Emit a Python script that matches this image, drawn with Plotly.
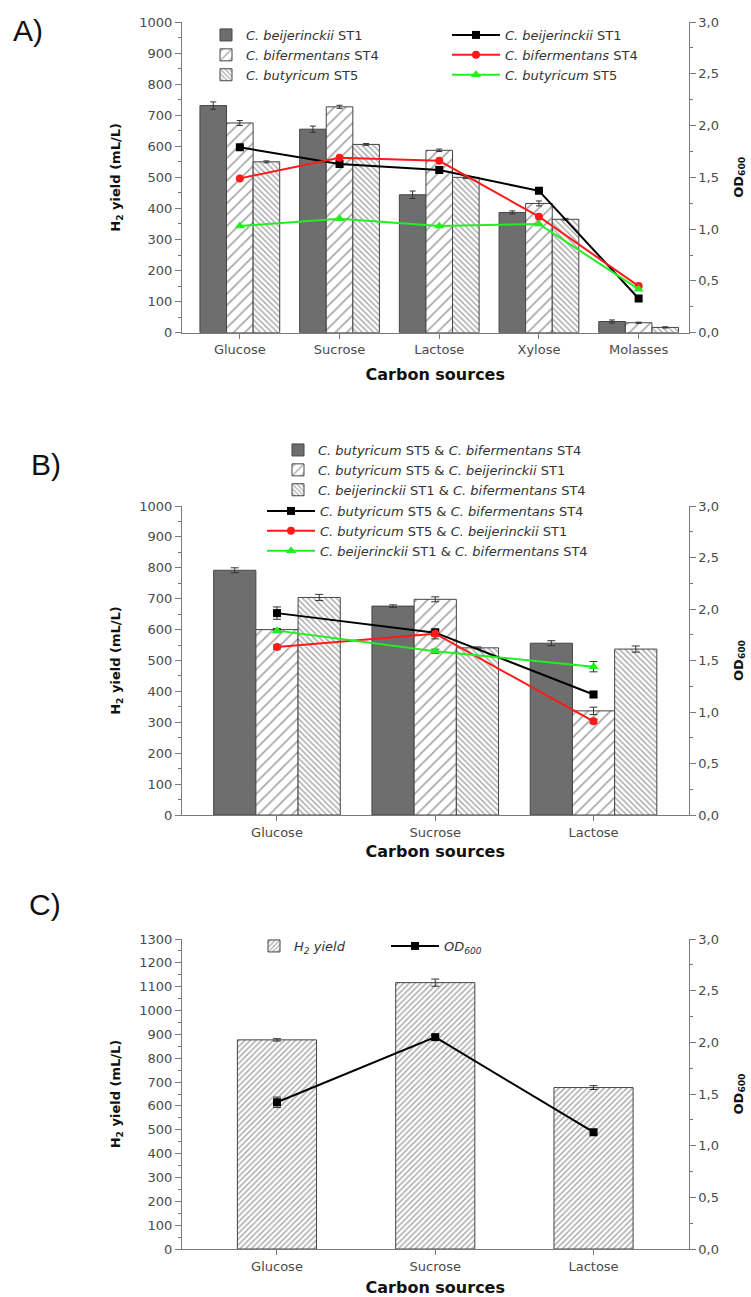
import plotly.graph_objects as go

# ---------------- data ----------------
cats_a = ["Glucose", "Sucrose", "Lactose", "Xylose", "Molasses"]
a_h2_beij = [731, 655, 444, 387, 36]
a_h2_beij_err = [12, 10, 12, 5, 5]
a_h2_bif = [675, 727, 587, 416, 32]
a_h2_bif_err = [8, 5, 4, 8, 2]
a_h2_but = [550, 606, 500, 365, 17]
a_h2_but_err = [3, 3, 4, 3, 2]
a_od_beij = [1.79, 1.63, 1.57, 1.37, 0.33]
a_od_bif = [1.49, 1.69, 1.66, 1.12, 0.45]
a_od_but = [1.03, 1.10, 1.03, 1.05, 0.42]

cats_b = ["Glucose", "Sucrose", "Lactose"]
b_h2_but_bif = [792, 676, 556]
b_h2_but_bif_err = [8, 4, 8]
b_h2_but_beij = [600, 698, 337]
b_h2_but_beij_err = [2, 8, 12]
b_h2_beij_bif = [704, 541, 537]
b_h2_beij_bif_err = [10, 3, 10]
b_od_but_bif = [1.96, 1.77, 1.17]
b_od_but_bif_err = [0.06, 0.02, 0.03]
b_od_but_beij = [1.63, 1.76, 0.91]
b_od_but_beij_err = [0.02, 0.05, 0.02]
b_od_beij_bif = [1.79, 1.59, 1.44]
b_od_beij_bif_err = [0.02, 0.02, 0.05]

cats_c = ["Glucose", "Sucrose", "Lactose"]
c_h2 = [877, 1117, 677]
c_h2_err = [5, 15, 8]
c_od = [1.42, 2.05, 1.13]
c_od_err = [0.05, 0.02, 0.02]

names_a = ["<i>C. beijerinckii</i> ST1", "<i>C. bifermentans</i> ST4", "<i>C. butyricum</i> ST5"]
names_b = ["<i>C. butyricum</i> ST5 & <i>C. bifermentans</i> ST4",
           "<i>C. butyricum</i> ST5 & <i>C. beijerinckii</i> ST1",
           "<i>C. beijerinckii</i> ST1 & <i>C. bifermentans</i> ST4"]
panel_labels = ["A)", "B)", "C)"]

# ---------------- styles ----------------
FONT = "DejaVu Sans"
AX = "#7a7a7a"
TXT = "#4a4a4a"
EDGE = "#454545"
W, H = 751, 1297

bar_styles = [
    dict(color="#6e6e6e", line=dict(color=EDGE, width=1)),
    dict(color="white", line=dict(color=EDGE, width=1),
         pattern=dict(shape="/", fgcolor="#4a4a4a", bgcolor="white", size=8, solidity=0.2)),
    dict(color="white", line=dict(color=EDGE, width=1),
         pattern=dict(shape="\\", fgcolor="#4a4a4a", bgcolor="white", size=4, solidity=0.35)),
]
line_colors = ["#000000", "#ff1a1a", "#22ee22"]
symbols = ["square", "circle", "triangle-up"]
msizes = [8, 8, 9]


def err(vals, w=3):
    return dict(type="data", array=vals, visible=True, color="#333333", thickness=1, width=w)


fig = go.Figure()

# ---- panel A ----
for nm, v, e, st in zip(names_a, [a_h2_beij, a_h2_bif, a_h2_but],
                        [a_h2_beij_err, a_h2_bif_err, a_h2_but_err], bar_styles):
    fig.add_trace(go.Bar(x=cats_a, y=v, error_y=err(e), name=nm, marker=st,
                         xaxis="x", yaxis="y", legend="legend", offsetgroup=nm))
for nm, v, c, s, ms in zip(names_a, [a_od_beij, a_od_bif, a_od_but], line_colors, symbols, msizes):
    fig.add_trace(go.Scatter(x=cats_a, y=v, name=nm, mode="lines+markers",
                             line=dict(color=c, width=2), marker=dict(color=c, symbol=s, size=ms),
                             xaxis="x", yaxis="y2", legend="legend2"))

# ---- panel B ----
for nm, v, e, st in zip(names_b, [b_h2_but_bif, b_h2_but_beij, b_h2_beij_bif],
                        [b_h2_but_bif_err, b_h2_but_beij_err, b_h2_beij_bif_err], bar_styles):
    fig.add_trace(go.Bar(x=cats_b, y=v, error_y=err(e, 4), name=nm, marker=st,
                         xaxis="x2", yaxis="y3", legend="legend3", offsetgroup="b" + nm))
for nm, v, e, c, s, ms in zip(names_b, [b_od_but_bif, b_od_but_beij, b_od_beij_bif],
                              [b_od_but_bif_err, b_od_but_beij_err, b_od_beij_bif_err],
                              line_colors, symbols, msizes):
    fig.add_trace(go.Scatter(x=cats_b, y=v, name=nm, mode="lines+markers", error_y=err(e, 4),
                             line=dict(color=c, width=2), marker=dict(color=c, symbol=s, size=ms),
                             xaxis="x2", yaxis="y4", legend="legend4"))

# ---- panel C ----
fig.add_trace(go.Bar(x=cats_c, y=c_h2, error_y=err(c_h2_err, 4), name="<i>H<sub>2</sub> yield</i>",
                     width=0.5, offset=-0.25,
                     marker=dict(color="white", line=dict(color=EDGE, width=1),
                                 pattern=dict(shape="/", fgcolor="#4a4a4a", bgcolor="white",
                                              size=4, solidity=0.35)),
                     xaxis="x3", yaxis="y5", legend="legend5"))
fig.add_trace(go.Scatter(x=cats_c, y=c_od, name="<i>OD<sub>600</sub></i>", mode="lines+markers",
                         error_y=err(c_od_err, 4),
                         line=dict(color="black", width=2), marker=dict(color="black", symbol="square", size=8),
                         xaxis="x3", yaxis="y6", legend="legend6"))

# ---------------- axes ----------------
xdom = [182 / W, 688.5 / W]


def ydom(top, bot):
    return [1 - bot / H, 1 - top / H]


tickfont = dict(family=FONT, size=13, color=TXT)
ltitle = dict(text="<b>H<sub>2</sub> yield (mL/L)</b>", font=dict(family=FONT, size=13, color="#111111"), standoff=15)
rtitle = dict(text="<b>OD<sub>600</sub></b>", font=dict(family=FONT, size=13, color="#111111"), standoff=15)


def xax(anchor, rng, standoff=12):
    return dict(domain=xdom, anchor=anchor, type="category", range=rng, showgrid=False, zeroline=False,
                showline=True, linecolor=AX, linewidth=1.3, ticks="outside", ticklen=5, tickcolor=AX,
                tickfont=tickfont, automargin=False,
                title=dict(text="<b>Carbon sources</b>", font=dict(family=FONT, size=16, color="#111111"),
                           standoff=standoff))


def yleft(anchor, dom, top):
    return dict(domain=dom, anchor=anchor, range=[0, top], dtick=100, tickformat="d", showgrid=False,
                zeroline=False, showline=True, linecolor=AX, linewidth=1.3, ticks="outside", ticklen=6,
                tickcolor=AX, tickfont=tickfont, title=ltitle, automargin=False,
                minor=dict(dtick=50, ticks="outside", ticklen=3, tickcolor=AX))


def yright(anchor, over):
    return dict(anchor=anchor, overlaying=over, side="right", range=[0, 3], dtick=0.5, tickformat=".1f",
                showgrid=False, zeroline=False, showline=True, linecolor=AX, linewidth=1.3, ticks="outside",
                ticklen=6, tickcolor=AX, tickfont=tickfont, title=rtitle, automargin=False,
                minor=dict(dtick=0.25, ticks="outside", ticklen=3, tickcolor=AX))


legfont = dict(family=FONT, size=13, color="#333333")


def leg(x, ytop, w=30, orient="v"):
    return dict(x=x / W, y=1 - ytop / H, xanchor="left", yanchor="top", bgcolor="rgba(0,0,0,0)",
                font=legfont, itemwidth=w, tracegroupgap=0, orientation=orient, itemclick=False)


fig.update_layout(
    width=W, height=H, margin=dict(l=0, r=0, t=0, b=0, autoexpand=False),
    paper_bgcolor="white", plot_bgcolor="white",
    separators=",.", barmode="group", bargap=0.2, bargroupgap=0,
    font=dict(family=FONT, color=TXT, size=13),
    xaxis=xax("y", [-0.58, 4.5]),
    yaxis=yleft("x", ydom(22, 332.7), 1000),
    yaxis2=yright("x", "y"),
    xaxis2=xax("y3", [-0.6, 2.6], 7),
    yaxis3=yleft("x2", ydom(506, 815), 1000),
    yaxis4=yright("x2", "y3"),
    xaxis3=xax("y5", [-0.6, 2.6]),
    yaxis5=yleft("x3", ydom(939, 1249), 1300),
    yaxis6=yright("x3", "y5"),
    legend=leg(206, 20),
    legend2=leg(447, 20, 48),
    legend3=leg(278, 435),
    legend4=leg(262, 496, 48),
    legend5=leg(254, 931),
    legend6=leg(386, 931, 48),
    showlegend=True,
    annotations=[
        dict(text=t, x=xx / W, y=1 - yy / H, xref="paper", yref="paper", xanchor="left", yanchor="middle",
             showarrow=False, font=dict(family="Liberation Sans", size=30, color="#111111"))
        for t, xx, yy in zip(panel_labels, [11, 29, 27], [31, 464, 904])
    ],
)

fig.write_html("out.html", config={"displayModeBar": False},
               post_script="document.body.style.margin='0px';")
